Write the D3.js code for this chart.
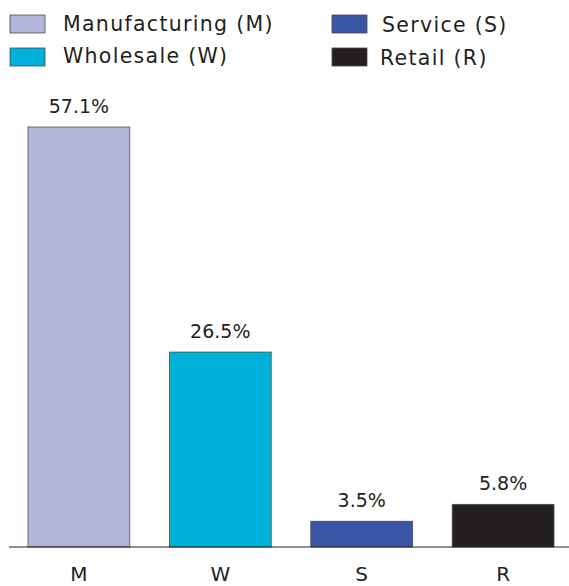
<!DOCTYPE html>
<html>
<head>
<meta charset="utf-8">
<script src="https://cdn.jsdelivr.net/npm/d3@7"></script>
<style>
  body { margin: 0; background: #fff; }
  svg { display: block; font-family: "DejaVu Sans", sans-serif; }
</style>
</head>
<body>
<div id="chart"></div>
<script>
const categories = ["M", "W", "S", "R"];
const legendNames = ["Manufacturing (M)", "Wholesale (W)", "Service (S)", "Retail (R)"];
const values = [57.1, 26.5, 3.5, 5.8];
const colors = ["#b3b6db", "#00b1d9", "#3a57a6", "#231f20"];

const width = 569, height = 586;
const baseY = 547;

const svg = d3.select("#chart").append("svg")
    .attr("width", width)
    .attr("height", height);

const x = d3.scaleBand()
    .domain(categories)
    .range([8.2, 573.8])
    .paddingInner(0.28)
    .paddingOuter(0.14);

const y = d3.scaleLinear()
    .domain([0, 57.1])
    .range([baseY, 127]);

const color = d3.scaleOrdinal().domain(categories).range(colors);

// bars
svg.append("g")
    .selectAll("rect")
    .data(categories)
    .join("rect")
    .attr("x", d => x(d))
    .attr("y", (d, i) => y(values[i]))
    .attr("width", x.bandwidth())
    .attr("height", (d, i) => baseY - y(values[i]))
    .attr("fill", d => color(d))
    .attr("stroke", "#4a4a4a")
    .attr("stroke-width", 0.8);

// value labels
svg.append("g")
    .selectAll("text")
    .data(categories)
    .join("text")
    .attr("x", d => x(d) + x.bandwidth() / 2)
    .attr("y", (d, i) => y(values[i]) - 14.5)
    .attr("text-anchor", "middle")
    .attr("font-size", 19)
    .attr("fill", "#231f20")
    .text((d, i) => values[i].toFixed(1) + "%");

// baseline
svg.append("line")
    .attr("x1", 9).attr("x2", width)
    .attr("y1", baseY).attr("y2", baseY)
    .attr("stroke", "#231f20")
    .attr("stroke-width", 1.2);

// category labels
svg.append("g")
    .selectAll("text")
    .data(categories)
    .join("text")
    .attr("x", d => x(d) + x.bandwidth() / 2)
    .attr("y", 581)
    .attr("text-anchor", "middle")
    .attr("font-size", 20)
    .attr("fill", "#231f20")
    .text(d => d);

// legend, 2 columns
const legendPos = [[10, 15], [10, 48], [332, 15], [332, 48]];
const textX = [53, 53, 50, 48];
const textY = [16, 15, 17, 17];
const legend = svg.append("g")
    .selectAll("g")
    .data(categories)
    .join("g")
    .attr("transform", (d, i) => `translate(${legendPos[i][0]},${legendPos[i][1]})`);

legend.append("rect")
    .attr("width", 35)
    .attr("height", 18)
    .attr("fill", d => color(d))
    .attr("stroke", "#4a4a4a")
    .attr("stroke-width", 0.8);

legend.append("text")
    .attr("x", (d, i) => textX[i])
    .attr("y", (d, i) => textY[i])
    .attr("font-size", 20.5)
    .attr("letter-spacing", 1.3)
    .attr("fill", "#231f20")
    .text((d, i) => legendNames[i]);
</script>
</body>
</html>
